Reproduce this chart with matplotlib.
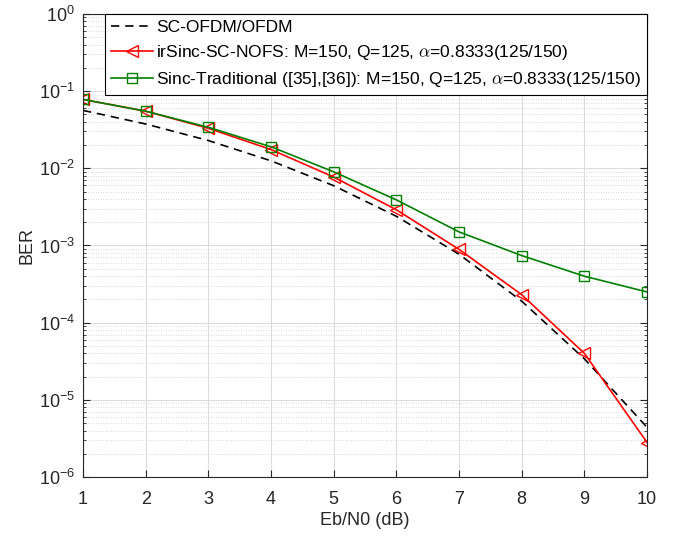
import numpy as np
import matplotlib
matplotlib.use("Agg")
import matplotlib.pyplot as plt
from matplotlib.ticker import LogLocator, NullFormatter

# ----- Datos -----
ebn0 = [1, 2, 3, 4, 5, 6, 7, 8, 9, 10]
ber_ofdm = [0.0563, 0.0375, 0.0229, 0.0125, 0.00595, 0.00239, 7.7e-4, 1.9e-4, 3.4e-5, 4.4e-6]
ber_irsinc = [0.078, 0.055, 0.033, 0.0175, 0.0077, 0.0029, 8.9e-4, 2.3e-4, 4.0e-5, 2.8e-6]
ber_sinc = [0.078, 0.055, 0.034, 0.019, 0.0090, 0.0039, 1.5e-3, 7.4e-4, 4.0e-4, 2.5e-4]
y_ticks = [1e-6, 1e-5, 1e-4, 1e-3, 1e-2, 1e-1, 1e0]

labels = [
    "SC-OFDM/OFDM",
    r"irSinc-SC-NOFS: M=150, Q=125, $\alpha$=0.8333(125/150)",
    r"Sinc-Traditional ([35],[36]): M=150, Q=125, $\alpha$=0.8333(125/150)",
]

plt.rcParams["font.family"] = ["Liberation Sans", "DejaVu Sans"]
plt.rcParams["mathtext.fontset"] = "cm"

fig = plt.figure(figsize=(6.78, 5.36), dpi=100)
ax = fig.add_axes([0.1224, 0.110, 0.832, 0.864])

ax.semilogy(ebn0, ber_ofdm, color="black", ls=(0, (5, 3.5)), lw=1.2, label=labels[0])
ax.semilogy(ebn0, ber_irsinc, color="red", lw=1.2, marker="<", ms=9,
            mfc="none", mew=1.0, label=labels[1])
ax.semilogy(ebn0, ber_sinc, color="green", lw=1.2, marker="s", ms=7,
            mfc="none", mew=1.0, label=labels[2])

ax.set_xlim(1, 10)
ax.set_ylim(1e-6, 1)
ax.set_xticks(ebn0)
ax.set_yticks(y_ticks)
ax.yaxis.set_minor_locator(LogLocator(base=10, subs=np.arange(2, 10), numticks=100))
ax.yaxis.set_minor_formatter(NullFormatter())
ax.set_ylim(1e-6, 1)

ax.grid(True, which="major", color="#dcdcdc", lw=0.8)
ax.grid(True, which="minor", axis="y", color="#cfcfcf", lw=0.6, ls=(0, (1, 2)))
ax.set_axisbelow(True)

ax.tick_params(which="both", direction="in", top=True, right=True, colors="#262626",
               labelsize=13)
ax.tick_params(which="major", length=5, pad=6)
ax.tick_params(which="minor", length=2.5)
ax.tick_params(axis="x", which="major", pad=10)
for s in ax.spines.values():
    s.set_color("#262626")
    s.set_linewidth(0.8)

ax.set_xlabel("Eb/N0 (dB)", fontsize=13, color="#262626", labelpad=3)
ax.set_ylabel("BER", fontsize=13, color="#262626", labelpad=2)

leg = ax.legend(loc="upper right", fontsize=12.5, fancybox=False, framealpha=1,
                edgecolor="black", borderaxespad=0, handlelength=2.4,
                handletextpad=0.2, labelspacing=0.45, borderpad=0.35)
leg.get_frame().set_linewidth(0.8)

fig.savefig("out.png", dpi=100)
